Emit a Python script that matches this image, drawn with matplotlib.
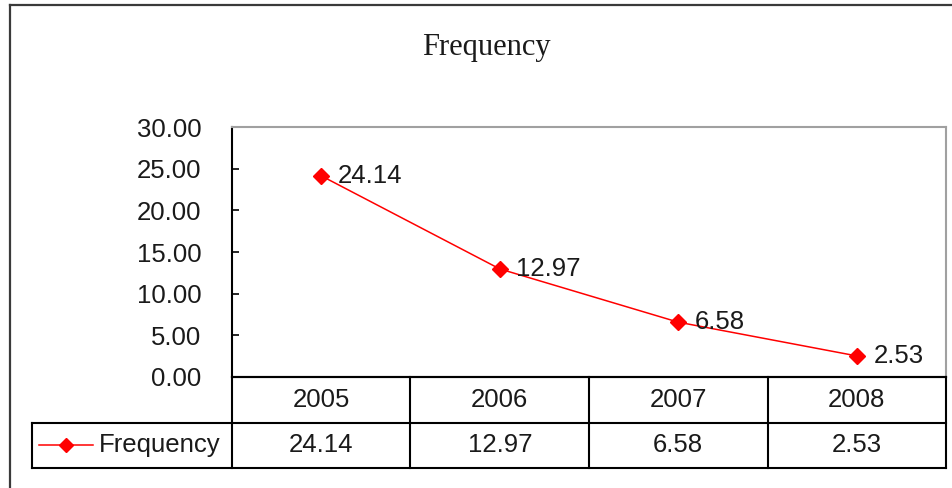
import matplotlib
matplotlib.use('Agg')
import matplotlib.pyplot as plt
from matplotlib.lines import Line2D

years = ['2005', '2006', '2007', '2008']
frequency = [24.14, 12.97, 6.58, 2.53]
yticks = [0, 5, 10, 15, 20, 25, 30]
series_name = 'Frequency'

W, H = 952, 488
fig = plt.figure(figsize=(W / 100, H / 100), dpi=100)

def px(x0, y0, x1, y1):
    # pixel box -> figure fraction
    return [x0 / W, 1 - y1 / H, (x1 - x0) / W, (y1 - y0) / H]

sans = 'Liberation Sans'
fs = 18.5
ink = '#1a1a1a'

# outer chart border (runs off the right and bottom of the image)
fig.add_artist(Line2D([10 / W, 1.01], [1 - 4.5 / H] * 2, color='#3a3a3a', lw=1.6))
fig.add_artist(Line2D([10 / W] * 2, [1 - 4.5 / H, -0.01], color='#3a3a3a', lw=1.6))

fig.text(486 / W, 1 - 47 / H, 'Frequency', ha='center', va='center',
         family='Liberation Serif', fontsize=22, color=ink)

# plot area
ax = fig.add_axes(px(232, 127, 946, 377))
x = range(len(years))
ax.plot(x, frequency, color='red', lw=1.1, marker='D', markersize=8, zorder=3)
for xi, v in zip(x, frequency):
    ax.annotate(f'{v:.2f}', (xi, v), xytext=(12, 0), textcoords='offset points',
                ha='left', va='center', family=sans, fontsize=fs, color=ink)
ax.set_xlim(-0.5, len(years) - 0.5)
ax.set_ylim(0, 30)
ax.set_yticks(yticks)
ax.set_yticklabels([f'{t:.2f}' for t in yticks], family=sans, fontsize=fs, color=ink)
ax.set_xticks([])
ax.tick_params(axis='y', direction='in', length=5, width=1.2, pad=22, color='black')
ax.spines['left'].set_color('black')
ax.spines['left'].set_linewidth(1.5)
ax.spines['bottom'].set_color('black')
ax.spines['bottom'].set_linewidth(1.5)
for s in ['top', 'right']:
    ax.spines[s].set_color('#a0a0a0')
    ax.spines[s].set_linewidth(1.5)

# data table under the plot, sharing the x scale
col_w = 714 / len(years)
tx0 = 3.5 - (946 - 32) / col_w
tab = fig.add_axes(px(32, 377, 946, 468))
tab.set_xlim(tx0, len(years) - 0.5)
tab.set_ylim(0, 2)
tab.axis('off')
lk = dict(color='black', lw=1.5, solid_capstyle='projecting')
tab.plot([-0.5, 3.5], [2, 2], **lk)
tab.plot([tx0, 3.5], [1, 1], **lk)
tab.plot([tx0, 3.5], [0, 0], **lk)
tab.plot([tx0, tx0], [0, 1], **lk)
for i in range(len(years) + 1):
    tab.plot([i - 0.5, i - 0.5], [0, 2], **lk)
for i, (yr, v) in enumerate(zip(years, frequency)):
    tab.text(i, 1.5, yr, ha='center', va='center', family=sans, fontsize=fs, color=ink)
    tab.text(i, 0.5, f'{v:.2f}', ha='center', va='center', family=sans, fontsize=fs, color=ink)

# legend key inside the row header
lx0 = tx0 + 7 / col_w
lx1 = tx0 + 61 / col_w
tab.plot([lx0, lx1], [0.5, 0.5], color='red', lw=1.1)
tab.plot([(lx0 + lx1) / 2], [0.5], color='red', marker='D', markersize=7)
tab.text(tx0 + 67 / col_w, 0.5, series_name, ha='left', va='center',
         family=sans, fontsize=fs, color=ink)
for a in (ax, tab):
    for ln in a.lines:
        ln.set_clip_on(False)

fig.savefig('out.png', dpi=100)
